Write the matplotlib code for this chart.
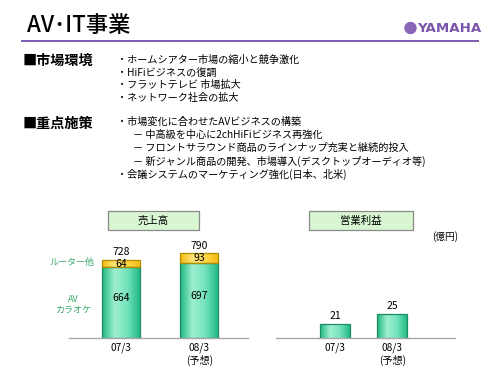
import matplotlib
matplotlib.use("Agg")
import matplotlib.pyplot as plt
import numpy as np
from matplotlib.patches import Rectangle, Ellipse
from matplotlib.colors import LinearSegmentedColormap

plt.rcParams['font.family'] = ['Noto Sans CJK JP', 'DejaVu Sans']

# ---- data ----
categories = ["07/3", "08/3"]
forecast_note = ["", "(予想)"]
sales_av = [664, 697]
sales_router = [64, 93]
sales_total = [728, 790]
op_profit = [21, 25]

title = "AV･IT事業"
env_heading = "■市場環境"
env_items = ["・ホームシアター市場の縮小と競争激化",
             "・HiFiビジネスの復調",
             "・フラットテレビ 市場拡大",
             "・ネットワーク社会の拡大"]
pol_heading = "■重点施策"
pol_items = [("・市場変化に合わせたAVビジネスの構築", 0),
             ("－ 中高級を中心に2chHiFiビジネス再強化", 1),
             ("－ フロントサラウンド商品のラインナップ充実と継続的投入", 1),
             ("－ 新ジャンル商品の開発、市場導入(デスクトップオーディオ等)", 1),
             ("・会議システムのマーケティング強化(日本、北米)", 0)]

W, H = 500, 375
fig = plt.figure(figsize=(W / 100, H / 100), dpi=100)
fig.patch.set_facecolor("white")


def P(x, y):
    return x / W, 1 - y / H


def ftext(x, y, s, **kw):
    fig.text(*P(x, y), s, **kw)


# header
ftext(27, 26, title, fontsize=16, va="center", ha="left", color="black",
      fontweight="medium")
fig.add_artist(plt.Line2D([22 / W, 478 / W], [1 - 40.5 / H] * 2,
                          color="#7d5cb0", lw=1.4, transform=fig.transFigure))
fig.add_artist(Ellipse(P(410.5, 28), 11 / W, 11 / H, color="#8a65b8",
                       transform=fig.transFigure))
ftext(417, 28.5, "YAMAHA", fontsize=9.6, fontweight="bold", color="#7b55ad",
      ha="left", va="center", family=["DejaVu Sans"])

# text section
ftext(23, 61, env_heading, fontsize=10.2, fontweight="bold", va="center")
for i, s in enumerate(env_items):
    ftext(117, 60 + i * 12.6, s, fontsize=7.3, va="center")
ftext(23, 124, pol_heading, fontsize=10.2, fontweight="bold", va="center")
for i, (s, lvl) in enumerate(pol_items):
    ftext(117 + lvl * 16, 122 + i * 13.1, s, fontsize=7.3, va="center")

green_cmap = LinearSegmentedColormap.from_list(
    "g", ["#20b882", "#9eefcf", "#74e3bc", "#24bb86"])
yellow_cmap = LinearSegmentedColormap.from_list(
    "y", ["#f5bb10", "#ffe67a", "#ffd84a", "#f5bd14"])


def grad_fill(ax, bars, cmap):
    xl, yl = ax.get_xlim(), ax.get_ylim()
    grad = np.linspace(0, 1, 64).reshape(1, -1)
    for b in bars:
        x, y = b.get_x(), b.get_y()
        w, h = b.get_width(), b.get_height()
        y0 = max(y, yl[0])
        y1 = min(y + h, yl[1])
        im = ax.imshow(grad, extent=[x, x + w, y0, y1], cmap=cmap,
                       aspect="auto", zorder=b.get_zorder() - 0.1)
        im.set_clip_path(b)
        b.set_facecolor("none")
    ax.set_xlim(xl)
    ax.set_ylim(yl)


# ---- sales chart ----
ax1 = fig.add_axes([69 / W, (H - 338) / H, 179 / W, 98 / H])
x = np.arange(len(categories))
b1 = ax1.bar(x, sales_av, width=0.484, color="#50d8a8", edgecolor="#1d8c62",
             lw=0.9, zorder=3)
b2 = ax1.bar(x, sales_router, bottom=sales_av, width=0.484, color="#ffd030",
             edgecolor="#b08a00", lw=0.9, zorder=3)
ax1.set_xlim(-0.662, 1.618)
ax1.set_ylim(0, 916)
grad_fill(ax1, b1, green_cmap)
grad_fill(ax1, b2, yellow_cmap)
for i in x:
    ax1.text(i, sales_av[i] * 0.5 + 40, str(sales_av[i]), ha="center",
             va="center", fontsize=7.5, zorder=5)
    ax1.text(i, sales_av[i] + sales_router[i] / 2, str(sales_router[i]),
             ha="center", va="center", fontsize=7.5, zorder=5)
    ax1.text(i, sales_total[i] + 25, str(sales_total[i]), ha="center",
             va="bottom", fontsize=7.5, zorder=5)

# ---- operating profit chart ----
ax2 = fig.add_axes([276 / W, (H - 338) / H, 179 / W, 98 / H])
x2 = np.arange(len(categories))
b3 = ax2.bar(x2, op_profit, width=0.516, color="#50d8a8", edgecolor="#1d8c62",
             lw=0.9, zorder=3)
ax2.set_xlim(-1.031, 2.098)
ax2.set_ylim(15.24, 55.6)
grad_fill(ax2, b3, green_cmap)
for i in x2:
    ax2.text(i, op_profit[i] + 1.2, str(op_profit[i]), ha="center",
             va="bottom", fontsize=7.5, zorder=5)

for ax in (ax1, ax2):
    ax.set_facecolor("none")
    for s in ("top", "right", "left"):
        ax.spines[s].set_visible(False)
    ax.spines["bottom"].set_color("#a8a8a8")
    ax.spines["bottom"].set_linewidth(1.0)
    ax.spines["bottom"].set_zorder(4)
    ax.set_yticks([])
    ax.set_xticks(x)
    ax.set_xticklabels([c + ("\n" + n if n else "") for c, n in
                        zip(categories, forecast_note)], fontsize=7.3,
                       linespacing=1.25)
    ax.tick_params(axis="x", length=0, pad=3)

# chart title boxes
for (x0, x1_, label) in [(108, 199, "売上高"), (309, 413, "営業利益")]:
    fig.add_artist(Rectangle(P(x0, 230), (x1_ - x0) / W, 19 / H,
                             facecolor="#d9f6d2", edgecolor="#8a8a8a", lw=0.9,
                             transform=fig.transFigure))
    ftext((x0 + x1_) / 2, 220.5, label, fontsize=7.5, ha="center",
          va="center")

ftext(445, 237, "(億円)", fontsize=7, ha="center", va="center")
ftext(72, 262, "ルーター他", fontsize=6.5, color="#3aa86a", ha="center",
      va="center")
ftext(73, 300, "AV", fontsize=6.5, color="#3aa86a", ha="center", va="center")
ftext(73, 310, "カラオケ", fontsize=6.5, color="#3aa86a", ha="center",
      va="center")

fig.savefig("out.png", dpi=100)
